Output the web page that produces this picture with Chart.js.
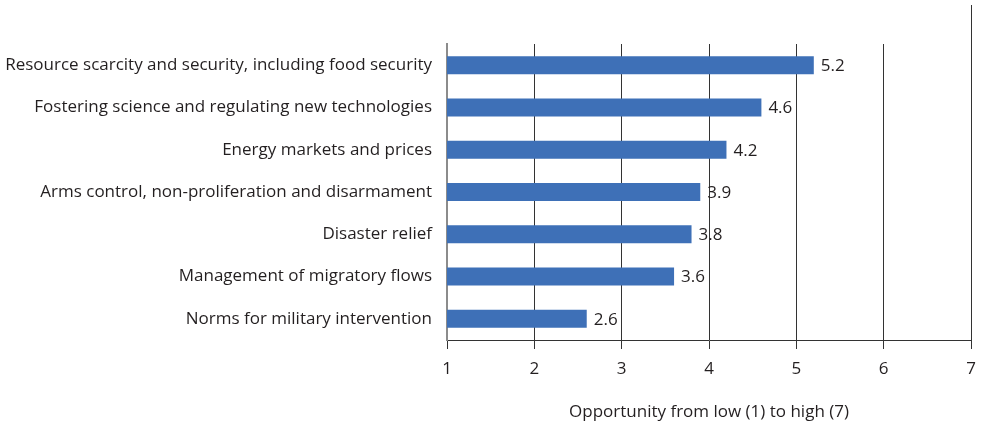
<!DOCTYPE html>
<html lang="en">
<head>
    <meta charset="UTF-8">
    <title>Opportunity bar chart</title>
    <style>
        html, body { margin: 0; padding: 0; background: #fff; }
        .wrap { width: 987px; height: 426px; }
    </style>
    <script src="https://cdn.jsdelivr.net/npm/chart.js"></script>
</head>
<body>
  <div class="wrap">
    <canvas id="barChart" width="987" height="426"></canvas>
  </div>
  <script>
    // Data
    const categories = [
        'Resource scarcity and security, including food security',
        'Fostering science and regulating new technologies',
        'Energy markets and prices',
        'Arms control, non-proliferation and disarmament',
        'Disaster relief',
        'Management of migratory flows',
        'Norms for military intervention'
    ];
    const scores = [5.2, 4.6, 4.2, 3.9, 3.8, 3.6, 2.6];
    const xTicks = [1, 2, 3, 4, 5, 6, 7];
    const axisTitle = 'Opportunity from low (1) to high (7)';

    const FONT = "'Open Sans', 'Noto Sans', sans-serif";

    // value labels at the bar ends (no datalabels plugin offline)
    const valueLabels = {
        id: 'valueLabels',
        afterDatasetsDraw(chart) {
            const ctx = chart.ctx;
            const meta = chart.getDatasetMeta(0);
            ctx.save();
            ctx.font = '17px ' + FONT;
            ctx.fillStyle = '#231f20';
            ctx.textAlign = 'left';
            ctx.textBaseline = 'middle';
            meta.data.forEach((bar, i) => {
                ctx.fillText(scores[i].toFixed(1), bar.x + 7, bar.y + 1);
            });
            ctx.restore();
        }
    };

    // the rightmost line runs up to the top of the picture
    const rightEdge = {
        id: 'rightEdge',
        afterDraw(chart) {
            const ctx = chart.ctx;
            const x = Math.round(chart.scales.x.getPixelForValue(7)) + 0.5;
            ctx.save();
            ctx.strokeStyle = '#333';
            ctx.lineWidth = 1;
            ctx.beginPath();
            ctx.moveTo(x, 5);
            ctx.lineTo(x, chart.chartArea.top);
            ctx.stroke();
            ctx.restore();
        }
    };

    new Chart(document.getElementById('barChart'), {
        type: 'bar',
        data: {
            labels: categories,
            datasets: [{
                data: scores,
                backgroundColor: '#3e70b7',
                borderWidth: 0,
                barPercentage: 0.85,
                categoryPercentage: 0.5
            }]
        },
        options: {
            indexAxis: 'y',
            responsive: false,
            animation: false,
            layout: { padding: { top: 44, right: 16, left: 0, bottom: 0 } },
            plugins: {
                legend: { display: false },
                tooltip: { enabled: false }
            },
            scales: {
                x: {
                    min: 1,
                    max: 7,
                    afterBuildTicks(scale) {
                        scale.ticks = xTicks.map(v => ({ value: v }));
                    },
                    afterFit(scale) { scale.height = 86; },
                    grid: {
                        color: '#333',
                        lineWidth: 1,
                        tickLength: 9,
                        drawOnChartArea: true
                    },
                    border: { display: true, color: '#333', width: 1 },
                    ticks: {
                        color: '#231f20',
                        font: { family: FONT, size: 17 },
                        padding: 10
                    },
                    title: {
                        display: true,
                        text: axisTitle,
                        color: '#231f20',
                        font: { family: FONT, size: 17 },
                        padding: { top: 14 }
                    }
                },
                y: {
                    afterFit(scale) { scale.width = 447; },
                    grid: { display: false },
                    border: { display: true, color: '#8c8c8c', width: 2 },
                    ticks: {
                        color: '#231f20',
                        font: { family: FONT, size: 17 },
                        padding: 7
                    }
                }
            }
        },
        plugins: [valueLabels, rightEdge]
    });
  </script>
</body>
</html>
